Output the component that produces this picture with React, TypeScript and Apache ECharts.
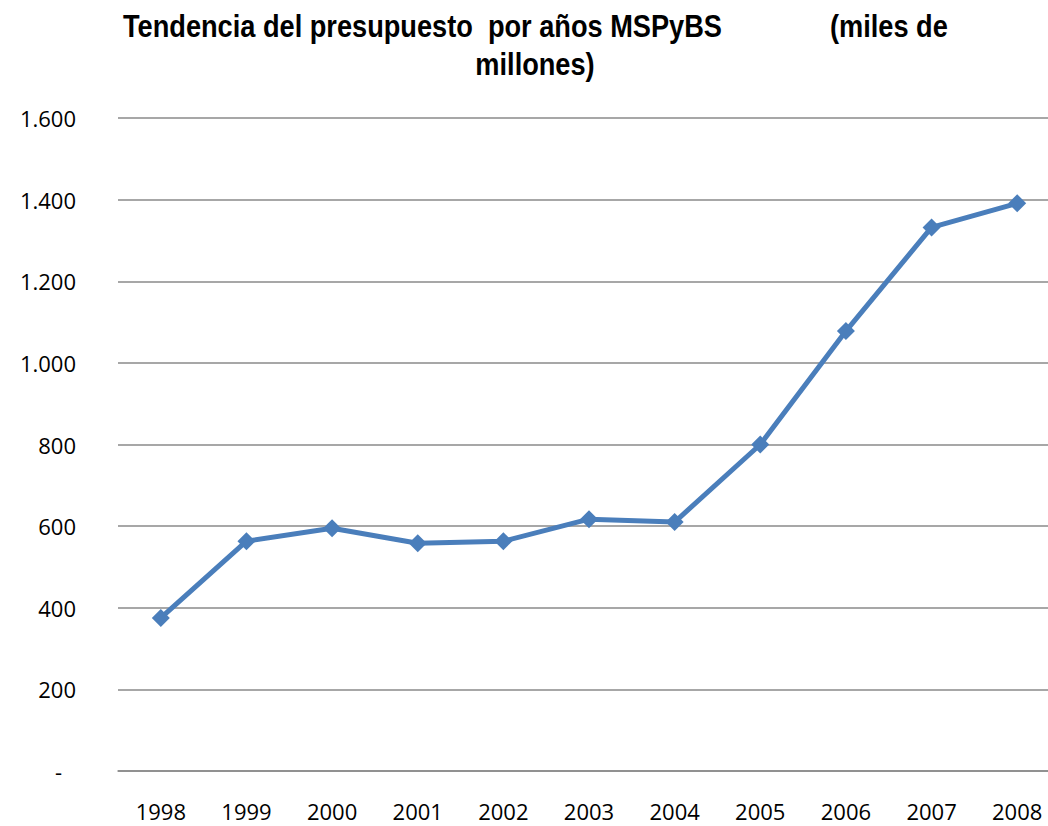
import React, { useEffect, useRef } from "react";
import * as echarts from "echarts";

const years = ["1998", "1999", "2000", "2001", "2002", "2003", "2004", "2005", "2006", "2007", "2008"];
const budget = [375, 563, 595, 558, 563, 617, 610, 800, 1078, 1332, 1391];
const yTicks = [0, 200, 400, 600, 800, 1000, 1200, 1400, 1600];
const titleLine1 = "Tendencia del presupuesto  por años MSPyBS";
const titleLine1b = "(miles de";
const titleLine2 = "millones)";

const fmt = (v: number) => {
  if (v === 0) return "{z|-}";
  return String(v).replace(/\B(?=(\d{3})+(?!\d))/g, ".");
};

const labelFont = "'Open Sans', 'Noto Sans', sans-serif";

export default function App() {
  const ref = useRef<HTMLDivElement>(null);
  useEffect(() => {
    if (!ref.current) return;
    const chart = echarts.init(ref.current, undefined, { renderer: "svg" });
    const titleStyle = (text: string, align: string) => ({
      text,
      fontFamily: "'Liberation Sans', Arial, sans-serif",
      fontWeight: "bold",
      fontSize: 31,
      fill: "#000",
      textAlign: align,
      textVerticalAlign: "middle",
    });
    chart.setOption({
      animation: false,
      backgroundColor: "#fff",
      graphic: [
        { type: "text", x: 123, y: 26, scaleX: 0.877, style: titleStyle(titleLine1, "left") },
        { type: "text", x: 830, y: 26, scaleX: 0.877, style: titleStyle(titleLine1b, "left") },
        { type: "text", x: 535, y: 64, scaleX: 0.877, style: titleStyle(titleLine2, "center") },
      ],
      grid: { left: 118, right: 0, top: 118, bottom: 55, containLabel: false },
      xAxis: {
        type: "category",
        data: years,
        boundaryGap: true,
        axisLine: { show: true, lineStyle: { color: "#8a8a8a", width: 1.5 } },
        axisTick: { show: false },
        axisLabel: {
          margin: 29,
          fontSize: 22,
          fontFamily: labelFont,
          color: "#000",
        },
      },
      yAxis: {
        type: "value",
        min: yTicks[0],
        max: yTicks[yTicks.length - 1],
        interval: 200,
        axisLine: { show: false },
        axisTick: { show: false },
        splitLine: { lineStyle: { color: "#8a8a8a", width: 1.5 } },
        axisLabel: {
          margin: 42,
          fontSize: 22,
          fontFamily: labelFont,
          color: "#000",
          formatter: fmt,
          rich: { z: { padding: [0, 14, 0, 0], fontSize: 22, fontFamily: labelFont, color: "#000" } },
        },
      },
      series: [
        {
          type: "line",
          data: budget,
          symbol: "diamond",
          symbolSize: 18,
          lineStyle: { color: "#4a7ebb", width: 5 },
          itemStyle: { color: "#4a7ebb" },
        },
      ],
    });
    return () => chart.dispose();
  }, []);
  return (
    <div style={{ position: "fixed", left: 0, top: 0, width: 1048, height: 826, overflow: "hidden", background: "#fff" }}>
      <div ref={ref} style={{ width: 1060, height: 826 }} />
    </div>
  );
}
